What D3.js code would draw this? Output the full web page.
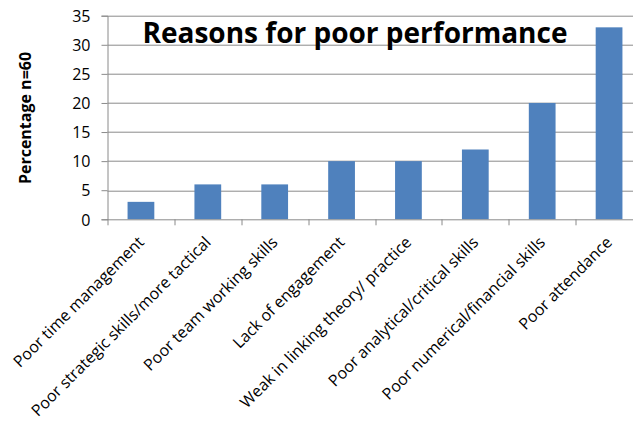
<!DOCTYPE html>
<html>
<head>
<meta charset="utf-8">
<script src="https://cdn.jsdelivr.net/npm/d3@7"></script>
<style>
  body { margin: 0; background: #fff; }
  svg { display: block; }
  text { font-family: "Open Sans", "Liberation Sans", sans-serif; fill: #000; }
</style>
</head>
<body>
<div class="chart"></div>
<script>
// chart data
const categories = [
  "Poor time management",
  "Poor strategic skills/more tactical",
  "Poor team working skills",
  "Lack of engagement",
  "Weak in linking theory/ practice",
  "Poor analytical/critical skills",
  "Poor numerical/financial skills",
  "Poor attendance"
];
const values = [3, 6, 6, 10, 10, 12, 20, 33];
const yTicks = [0, 5, 10, 15, 20, 25, 30, 35];

const width = 633;
const height = 423;
// plot area runs past the right edge of the picture
const margin = {top: 15.7, left: 107.5};
const plotW = 535;
const plotH = 203.6;

const svg = d3.select('.chart')
  .append('svg')
  .attr('width', width)
  .attr('height', height);

const g = svg.append('g')
  .attr('transform', 'translate(' + margin.left + ',' + margin.top + ')');

const x = d3.scaleBand()
  .domain(categories)
  .range([0, plotW]);

const y = d3.scaleLinear()
  .domain([0, 35])
  .range([plotH, 0]);

// gridlines
g.selectAll('.grid')
  .data(yTicks.slice(1))
  .enter()
  .append('line')
  .attr('x1', 0)
  .attr('x2', plotW)
  .attr('y1', d => Math.round(y(d)) + 0.5)
  .attr('y2', d => Math.round(y(d)) + 0.5)
  .style('stroke', '#8a8a8a')
  .style('stroke-width', 1)

// bars, gap width 150%
const barW = x.bandwidth() / 2.5;
g.selectAll('.bar')
  .data(values)
  .enter()
  .append('rect')
  .attr('x', (d, i) => x(categories[i]) + (x.bandwidth() - barW) / 2)
  .attr('y', d => y(d))
  .attr('width', barW)
  .attr('height', d => plotH - y(d))
  .style('fill', '#4f81bd')

// y axis
const yAxis = g.append('g')
  .call(d3.axisLeft(y).tickValues(yTicks).tickSize(6).tickPadding(11))
yAxis.select('.domain').style('stroke', '#8a8a8a')
yAxis.selectAll('.tick line').style('stroke', '#8a8a8a')
yAxis.selectAll('.tick text')
  .style('font-size', '16px')
  .attr('dy', '0.36em')

// x axis with ticks between categories
const xAxis = g.append('g')
  .attr('transform', 'translate(0,' + plotH + ')')
xAxis.append('line')
  .attr('x1', 0).attr('x2', plotW)
  .attr('y1', 0.5).attr('y2', 0.5)
  .style('stroke', '#8a8a8a')
xAxis.selectAll('.xtick')
  .data(d3.range(categories.length + 1))
  .enter()
  .append('line')
  .attr('x1', i => Math.round(i * x.step()) + 0.5)
  .attr('x2', i => Math.round(i * x.step()) + 0.5)
  .attr('y1', 0)
  .attr('y2', 6)
  .style('stroke', '#8a8a8a')

// rotated category labels
xAxis.selectAll('.xlabel')
  .data(categories)
  .enter()
  .append('text')
  .attr('text-anchor', 'end')
  .attr('transform', d => 'translate(' + (x(d) + x.bandwidth() / 2 + 4) + ',' + 24 + ') rotate(-45)')
  .style('font-size', '16px')
  .text(d => d)

// y axis title
svg.append('text')
  .attr('text-anchor', 'middle')
  .attr('transform', 'translate(31,118) rotate(-90)')
  .style('font-size', '16px')
  .style('font-weight', 'bold')
  .text('Percentage n=60')

// chart title
svg.append('text')
  .attr('text-anchor', 'middle')
  .attr('x', 355)
  .attr('y', 43)
  .style('font-size', '28px')
  .style('font-weight', 'bold')
  .text('Reasons for poor performance')
</script>
</body>
</html>
